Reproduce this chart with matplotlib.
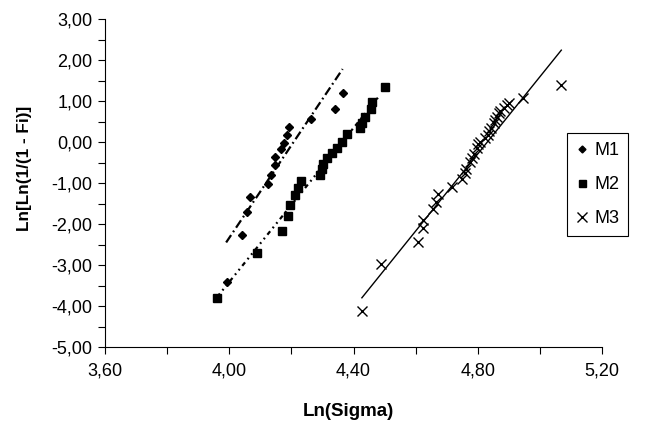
import matplotlib
matplotlib.use("Agg")
import matplotlib.pyplot as plt
from matplotlib.ticker import MultipleLocator, FuncFormatter

plt.rcParams['font.family'] = ['Liberation Sans', 'DejaVu Sans']

# données
m1_x = [3.994, 4.042, 4.058, 4.067, 4.124, 4.135, 4.146, 4.146, 4.165,
        4.177, 4.185, 4.192, 4.263, 4.339, 4.365]
m1_y = [-3.42, -2.27, -1.70, -1.33, -1.03, -0.80, -0.56, -0.36, -0.17,
        -0.02, 0.17, 0.37, 0.56, 0.80, 1.19]

m2_x = [3.960, 4.089, 4.170, 4.190, 4.196, 4.212, 4.221, 4.231, 4.293,
        4.298, 4.303, 4.314, 4.330, 4.346, 4.362, 4.378, 4.421, 4.427,
        4.438, 4.456, 4.459, 4.500]
m2_y = [-3.81, -2.71, -2.16, -1.80, -1.54, -1.30, -1.11, -0.95, -0.80,
        -0.66, -0.54, -0.40, -0.28, -0.15, 0.01, 0.20, 0.33, 0.47,
        0.62, 0.80, 0.98, 1.35]

m3_x = [4.427, 4.487, 4.608, 4.624, 4.625, 4.656, 4.667, 4.671, 4.717,
        4.749, 4.759, 4.763, 4.776, 4.782, 4.789, 4.797, 4.802, 4.808,
        4.824, 4.832, 4.835, 4.843, 4.851, 4.856, 4.862, 4.867, 4.872,
        4.883, 4.894, 4.902, 4.947, 5.069]
m3_y = [-4.12, -2.98, -2.44, -2.09, -1.90, -1.63, -1.46, -1.28, -1.10,
        -0.90, -0.76, -0.66, -0.48, -0.39, -0.29, -0.15, -0.05, 0.01,
        0.10, 0.17, 0.26, 0.35, 0.46, 0.54, 0.61, 0.70, 0.76,
        0.82, 0.90, 0.95, 1.07, 1.39]

# droites de tendance (extrémités)
m1_fit_x = [3.990, 4.365]
m1_fit_y = [-2.45, 1.78]
m2_fit_x = [3.961, 4.486]
m2_fit_y = [-3.78, 1.15]
m3_fit_x = [4.427, 5.069]
m3_fit_y = [-3.80, 2.24]

fig = plt.figure(figsize=(6.7, 4.23), dpi=100)
ax = fig.add_axes([105 / 670, 1 - 347 / 423, 497 / 670, 328 / 423])

ax.plot(m1_x, m1_y, 'D', color='black', markersize=3.9, label='M1', clip_on=False)
ax.plot(m2_x, m2_y, 's', color='black', markersize=5.6, label='M2', clip_on=False)
ax.plot(m3_x, m3_y, 'x', color='black', markersize=7.5, markeredgewidth=1.0,
        label='M3', clip_on=False)

ax.plot(m1_fit_x, m1_fit_y, color='black', lw=1.6, dashes=(4, 1.6, 0.8, 1.6))
ax.plot(m2_fit_x, m2_fit_y, color='black', lw=1.6,
        dashes=(2, 1.8, 0.8, 1.8, 0.8, 1.8))
ax.plot(m3_fit_x, m3_fit_y, color='black', lw=1.0)

ax.set_xlim(3.6, 5.2)
ax.set_ylim(-5, 3)
ax.xaxis.set_major_locator(MultipleLocator(0.4))
ax.xaxis.set_minor_locator(MultipleLocator(0.2))
ax.yaxis.set_major_locator(MultipleLocator(1.0))
ax.yaxis.set_minor_locator(MultipleLocator(0.5))
virg = FuncFormatter(lambda v, p: f"{v:.2f}".replace('.', ','))
ax.xaxis.set_major_formatter(virg)
ax.yaxis.set_major_formatter(virg)
ax.tick_params(which='both', direction='out', length=5, width=0.8,
               labelsize=13, color='black')
ax.tick_params(axis='x', pad=6.5)
ax.tick_params(axis='y', pad=4)

for s in ['top', 'right']:
    ax.spines[s].set_visible(False)
for s in ['left', 'bottom']:
    ax.spines[s].set_linewidth(0.8)

ax.set_xlabel("Ln(Sigma)", fontsize=13.5, fontweight='bold')
ax.set_ylabel("Ln[Ln(1/(1 - Fi)]", fontsize=12.3, fontweight='bold')
ax.xaxis.set_label_coords(0.49, -0.172)
ax.yaxis.set_label_coords(-0.147, 0.545)

leg = ax.legend(loc='upper left', bbox_to_anchor=(567 / 670, 1 - 133 / 423),
                bbox_transform=fig.transFigure, borderaxespad=0,
                frameon=True, fancybox=False, edgecolor='black',
                framealpha=1, fontsize=13, labelspacing=0.95,
                handlelength=0.7, handletextpad=0.3, borderpad=0.5,
                markerscale=0.9)
leg.get_frame().set_linewidth(0.8)

fig.savefig("out.png", dpi=100)
